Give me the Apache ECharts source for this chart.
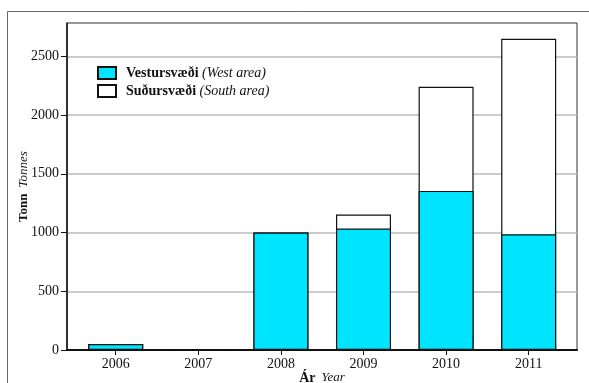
<!DOCTYPE html>
<html>
<head>
<meta charset="utf-8">
<script src="https://cdn.jsdelivr.net/npm/echarts@6/dist/echarts.min.js"></script>
<style>
	html, body { margin: 0; padding: 0; background: #fff; }
	#chart { width: 589px; height: 383px; }
</style>
</head>
<body>
<div id="chart"></div>
<script>
var years = ['2006', '2007', '2008', '2009', '2010', '2011'];
var westArea = [51, 0, 1000, 1034, 1354, 985];
var southArea = [0, 0, 0, 119, 886, 1664];
var yTicks = [0, 500, 1000, 1500, 2000, 2500];

var serif = '"Liberation Serif", "DejaVu Serif", serif';
var pos = years.map(function(y, i){ return i; });

// white south bar is drawn as the full stack height, west bar over it
var westData = westArea.map(function(v, i){ return [i, v]; });
var totalData = southArea.map(function(v, i){ return [i, v + westArea[i]]; });

var chart = echarts.init(document.getElementById('chart'));
chart.setOption({
	animation: false,
	backgroundColor: '#fff',
	textStyle: { fontFamily: serif },
	graphic: [{
		type: 'rect',
		shape: { x: 7.5, y: 11.5, width: 620, height: 420 },
		style: { fill: 'none', stroke: '#666', lineWidth: 1 },
		z: 0
	}],
	grid: {
		left: 67, right: 12, top: 23, bottom: 33,
		outerBoundsMode: 'none',
		show: true, borderColor: '#333', borderWidth: 1
	},
	legend: {
		orient: 'vertical',
		left: 92, top: 61,
		icon: 'rect',
		itemWidth: 18, itemHeight: 12, itemGap: 4,
		selectedMode: false,
		textStyle: {
			fontFamily: serif, fontSize: 14, color: '#111',
			padding: [0, 0, 0, 5],
			rich: {
				b: { fontFamily: serif, fontSize: 14, fontWeight: 'bold', color: '#111' },
				i: { fontFamily: serif, fontSize: 14, fontStyle: 'italic', color: '#111' }
			}
		},
		formatter: function(name){
			var parts = name.split('|');
			return '{b|' + parts[0] + '} {i|' + parts[1] + '}';
		},
		data: ['Vestursvæði|(West area)', 'Suðursvæði|(South area)']
	},
	xAxis: {
		type: 'value',
		min: -0.59, max: 5.585,
		splitLine: { show: false },
		axisLine: { show: true, onZero: false, lineStyle: { color: '#111', width: 2 } },
		axisTick: { show: true, customValues: pos, length: 5, lineStyle: { color: '#111' } },
		axisLabel: {
			customValues: pos, fontSize: 14, color: '#111', margin: 7,
			formatter: function(v){ return years[Math.round(v)]; }
		},
		name: '{b|Ár}  {i|Year}',
		nameLocation: 'middle',
		nameMoveOverlap: false,
		nameGap: 21,
		nameTextStyle: {
			rich: {
				b: { fontFamily: serif, fontSize: 14, fontWeight: 'bold', color: '#111' },
				i: { fontFamily: serif, fontSize: 13, fontStyle: 'italic', color: '#111' }
			}
		}
	},
	yAxis: {
		type: 'value',
		min: 0, max: 2783,
		interval: 500,
		axisLine: { show: true, onZero: false, lineStyle: { color: '#111', width: 1.5 } },
		axisTick: { show: true, length: 6, lineStyle: { color: '#111' }, customValues: yTicks },
		axisLabel: {
			fontSize: 14, color: '#111', margin: 8, customValues: yTicks,
			formatter: function(v){ return String(v); }
		},
		splitLine: { show: true, lineStyle: { color: '#bbb', width: 1.5 } },
		name: '{b|Tonn}  {i|Tonnes}',
		nameLocation: 'middle',
		nameMoveOverlap: false,
		nameGap: 37,
		nameTextStyle: {
			rich: {
				b: { fontFamily: serif, fontSize: 13, fontWeight: 'bold', color: '#111' },
				i: { fontFamily: serif, fontSize: 13, fontStyle: 'italic', color: '#111' }
			}
		}
	},
	series: [{
		name: 'Suðursvæði|(South area)',
		type: 'bar',
		barWidth: 55,
		barGap: '-100%',
		data: totalData,
		itemStyle: { color: '#fff', borderColor: '#111', borderWidth: 1.2 }
	}, {
		name: 'Vestursvæði|(West area)',
		type: 'bar',
		barWidth: 55,
		barGap: '-100%',
		data: westData,
		itemStyle: { color: '#00e5ff', borderColor: '#111', borderWidth: 1.2 }
	}]
});
</script>
</body>
</html>
